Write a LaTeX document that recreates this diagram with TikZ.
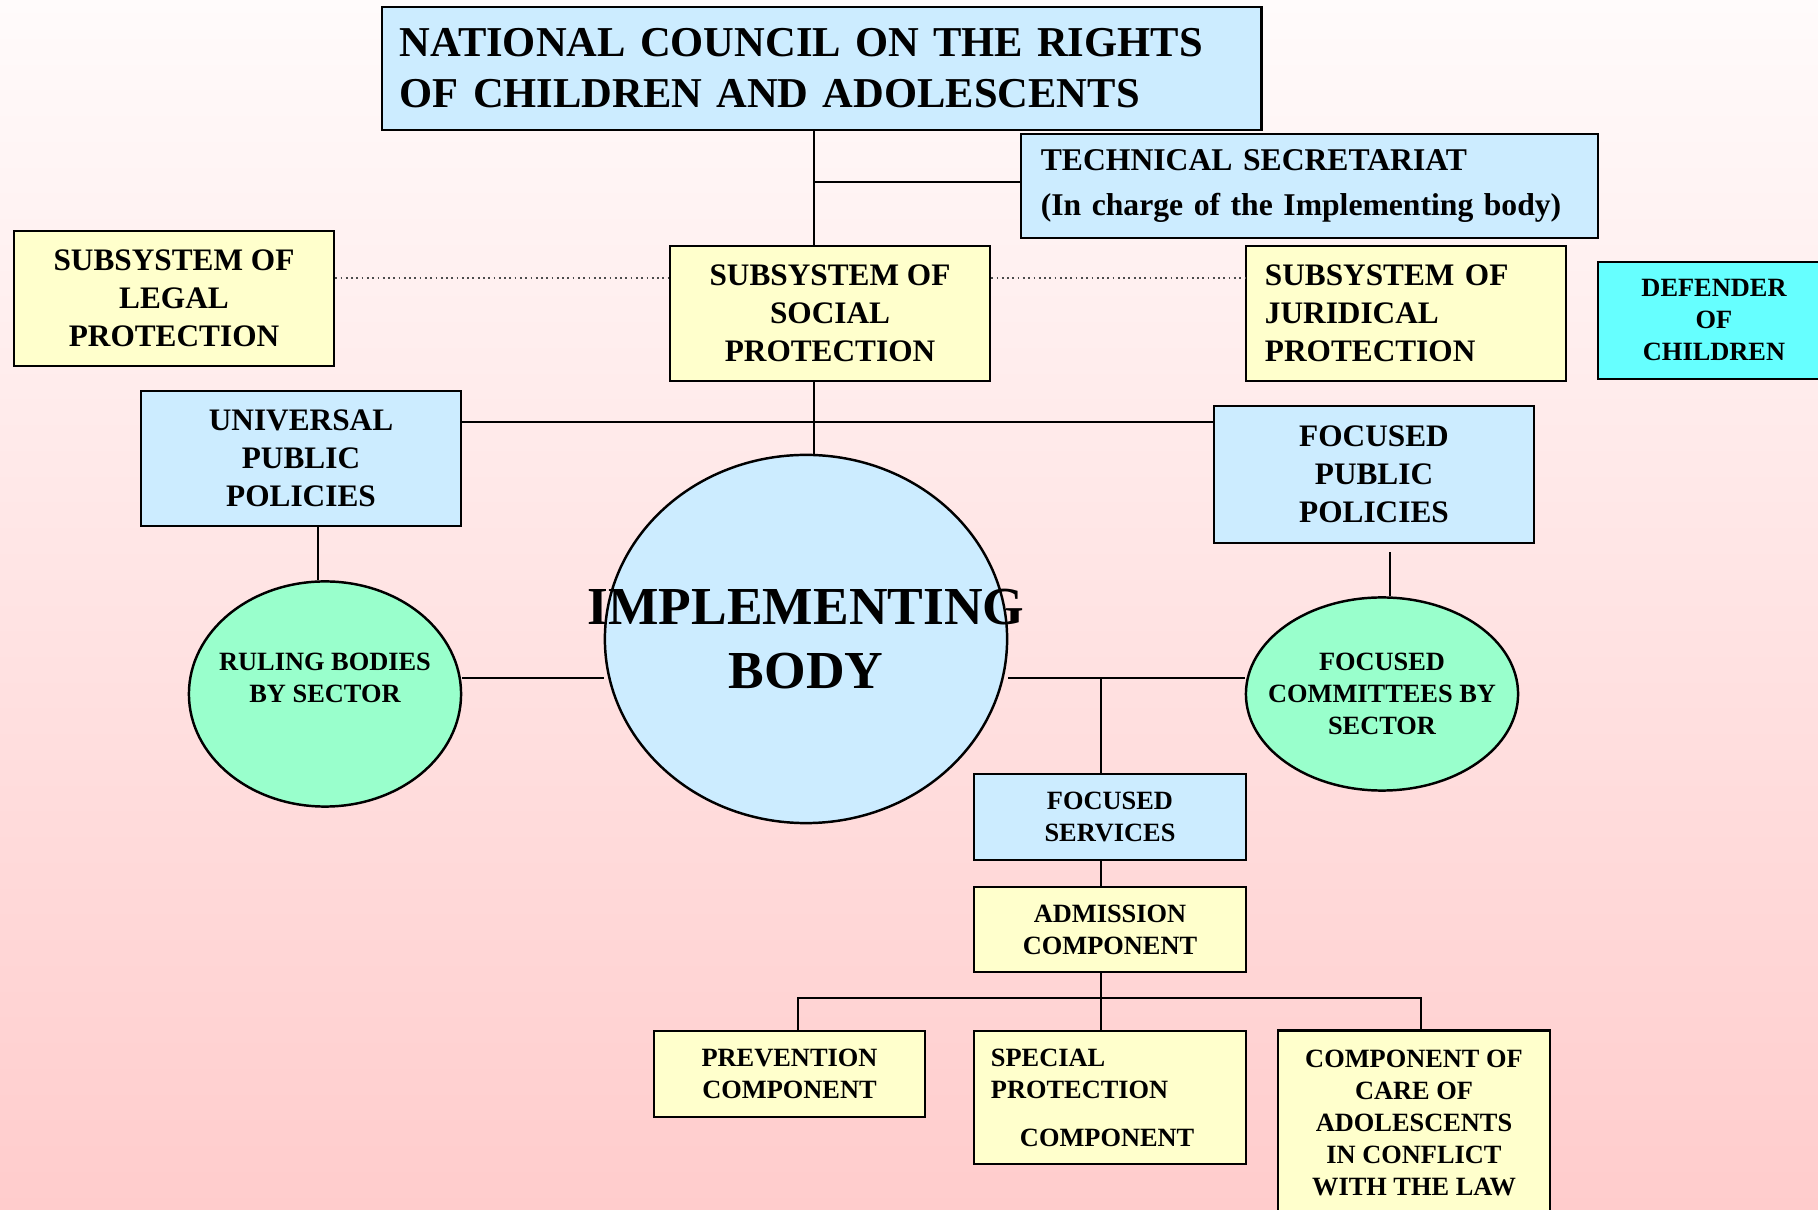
\documentclass[tikz,border=0pt]{standalone}
\usepackage{fontspec}
\setmainfont{Liberation Serif}
\usetikzlibrary{shapes.geometric}

\definecolor{skyfill}{RGB}{204,236,255}
\definecolor{creamfill}{RGB}{255,255,204}
\definecolor{mintfill}{RGB}{153,255,204}
\definecolor{aquafill}{RGB}{102,255,255}
\definecolor{pinktop}{RGB}{255,251,251}
\definecolor{pinkbottom}{RGB}{255,204,204}

\begin{document}
\begin{tikzpicture} [
  x=0.01cm, y=-0.01cm,
  unit/.style={draw, line width=0.7pt, inner sep=0pt, align=center},
  bluebox/.style={unit, fill=skyfill},
  yellowbox/.style={unit, fill=creamfill},
  greenblob/.style={unit, ellipse, fill=mintfill},
  midbox/.style={minimum width=3.2cm, minimum height=1.35cm,
    font=\bfseries\fontsize{8.9}{10.8}\selectfont},
  smallbox/.style={minimum width=2.72cm, minimum height=0.86cm,
    font=\bfseries\fontsize{7.5}{9.1}\selectfont},
  wire/.style={line width=0.6pt},
  dotline/.style={densely dotted, line width=0.5pt, black!70}]

\shade[top color=pinktop, bottom color=pinkbottom] (0,0) rectangle (1818,1210);
\useasboundingbox (0,0) rectangle (1818,1210);

\node[bluebox, minimum width=8.79cm, minimum height=1.23cm, text width=8.43cm,
  align=left, font=\bfseries\fontsize{12.1}{14.5}\selectfont] (council) at (821.5,68.5)
  {NATIONAL COUNCIL ON THE RIGHTS\\OF CHILDREN AND ADOLESCENTS};
\node[bluebox, minimum width=5.77cm, minimum height=1.04cm, text width=5.37cm,
  align=left, font=\bfseries\fontsize{9}{12.8}\selectfont] (secretariat) at (1309.5,186)
  {TECHNICAL SECRETARIAT\\(In charge of the Implementing body)};

\node[yellowbox, midbox] (legal) at (174,298.5) {SUBSYSTEM OF\\LEGAL\\PROTECTION};
\node[yellowbox, midbox] (social) at (830,313.5) {SUBSYSTEM OF\\SOCIAL\\PROTECTION};
\node[yellowbox, midbox, text width=2.82cm, align=left] (juridical) at (1406,313.5)
  {SUBSYSTEM OF\\JURIDICAL\\PROTECTION};
\node[unit, fill=aquafill, minimum width=2.32cm, minimum height=1.17cm,
  font=\bfseries\fontsize{7.5}{9.1}\selectfont] (defender) at (1714,320.5)
  {DEFENDER\\OF\\CHILDREN};

\node[bluebox, midbox] (universal) at (301,458.5) {UNIVERSAL\\PUBLIC\\POLICIES};
\node[bluebox, midbox, minimum height=1.37cm] (focused) at (1374,474.5)
  {FOCUSED\\PUBLIC\\POLICIES};

\node[unit, ellipse, fill=skyfill, minimum width=4.02cm, minimum height=3.68cm,
  font=\bfseries\fontsize{15.2}{18.2}\selectfont] (impl) at (806,639)
  {\makebox[0pt]{IMPLEMENTING}\\\makebox[0pt]{BODY}};
\node[greenblob, minimum width=2.72cm, minimum height=2.25cm,
  font=\bfseries\fontsize{7.5}{9.1}\selectfont] (ruling) at (325,694)
  {\makebox[0pt]{RULING BODIES}\\\makebox[0pt]{BY SECTOR}\\\mbox{}};
\node[greenblob, minimum width=2.72cm, minimum height=1.93cm,
  font=\bfseries\fontsize{7.5}{9.1}\selectfont] (committees) at (1382,694)
  {\makebox[0pt]{FOCUSED}\\\makebox[0pt]{COMMITTEES BY}\\\makebox[0pt]{SECTOR}};

\node[bluebox, smallbox] (services) at (1110,817) {FOCUSED\\SERVICES};
\node[yellowbox, smallbox, minimum height=0.85cm] (admission) at (1110,929.5)
  {ADMISSION\\COMPONENT};
\node[yellowbox, smallbox, minimum width=2.71cm] (prevention) at (789.5,1074)
  {PREVENTION\\COMPONENT};
\node[yellowbox, smallbox, minimum height=1.33cm, text width=2.38cm, align=left]
  (special) at (1110,1097.5)
  {SPECIAL\\PROTECTION\\[0.16cm]\hspace*{0.29cm}COMPONENT};
\node[yellowbox, smallbox, minimum height=1.85cm] (care) at (1414,1123)
  {COMPONENT OF\\CARE OF\\ADOLESCENTS\\IN CONFLICT\\WITH THE LAW};

\coordinate (spine) at (814,182);
\coordinate (dotrow) at (0,278);
\coordinate (bar) at (0,422);
\coordinate (midrow) at (0,678);
\coordinate (lane) at (1101,0);
\coordinate (leftlane) at (318,0);
\coordinate (rightlane) at (1390,0);
\coordinate (bus) at (0,998);
\coordinate (busleft) at (798,998);
\coordinate (busright) at (1421,998);

\draw[wire] (council.south -| spine) -- (social.north -| spine);
\draw[wire] (spine) -- (secretariat.west |- spine);
\draw[wire] (social.south -| spine) -- (impl.north -| spine);
\draw[dotline] (legal.east |- dotrow) -- (social.west |- dotrow);
\draw[dotline] (social.east |- dotrow) -- (juridical.west |- dotrow);
\draw[wire] (universal.east |- bar) -- (focused.west |- bar);
\draw[wire] (universal.south -| leftlane) -- (ruling.north -| leftlane);
\draw[wire, shorten <=0.08cm] (focused.south -| rightlane) -- (committees.north -| rightlane);
\draw[wire] (ruling.east |- midrow) -- (impl.west |- midrow);
\draw[wire] (impl.east |- midrow) -- (committees.west |- midrow);
\draw[wire] (lane |- midrow) -- (services.north -| lane);
\draw[wire] (services.south -| lane) -- (admission.north -| lane);
\draw[wire] (admission.south -| lane) -- (special.north -| lane);
\draw[wire] (prevention.north -| busleft) -- (busleft) -- (busright) -- (care.north -| busright);
\end{tikzpicture}
\end{document}
